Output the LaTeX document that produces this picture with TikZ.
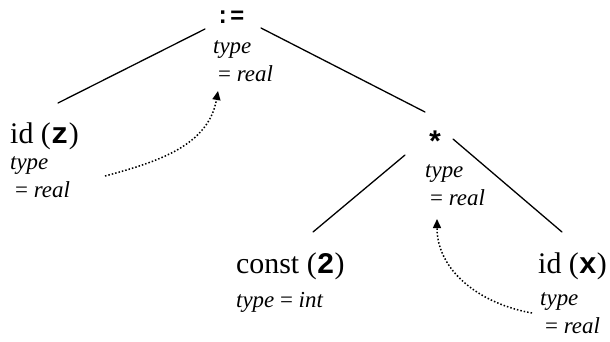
\documentclass[tikz,border=0pt]{standalone}
\usepackage{fontspec}
\setmainfont{Liberation Serif}
\setmonofont{Liberation Mono}
\usetikzlibrary{arrows.meta}
\tikzset{
  op/.style={font=\fontsize{24}{24}\selectfont\ttfamily\bfseries, inner sep=0pt, anchor=base},
  leaf/.style={font=\fontsize{30}{30}\selectfont, inner sep=0pt, anchor=base west},
  attr/.style={font=\fontsize{23}{28}\selectfont\itshape, inner sep=0pt, anchor=base west, align=left},
  edge/.style={draw=black, line width=1.3bp, line cap=round},
  dep/.style={draw=black, dotted, line width=1.5bp, -{Triangle[length=9bp,width=8bp]}},
}
\newcommand{\tyval}[1]{type\\\hspace*{5bp}\textup{=} #1}

\begin{document}
\begin{tikzpicture}[x=1bp,y=1bp]
  \useasboundingbox (0,0) rectangle (610,-341);
  % tree nodes
  \node[op] (asgn) at (230,-23) {:=};
  \node[op, font=\fontsize{30}{30}\selectfont\ttfamily\bfseries] (star) at (435,-152) {*};
  \node[leaf] (idz) at (10,-143) {id (\texttt{\textbf{z}})};
  \node[leaf] (const) at (236,-273) {const (\texttt{\textbf{2}})};
  \node[leaf] (idx) at (538,-273) {id (\texttt{\textbf{x}})};
  % attributes (anchored on their last line)
  \node[attr] (asgnattr) at (213,-81) {\tyval{real}};
  \node[attr] (zattr) at (10,-197) {\tyval{real}};
  \node[attr] (starattr) at (425,-205) {\tyval{real}};
  \node[attr] (constattr) at (236,-307) {type \textup{=} int};
  \node[attr] (xattr) at (540,-333) {\tyval{real}};
  % syntax tree edges
  \draw[edge] ([shift={(-25,-6)}]asgn.base) -- ([shift={(48,40)}]idz.base west);
  \draw[edge] ([shift={(31,-5)}]asgn.base) -- ([shift={(-10,40)}]star.base);
  \draw[edge] ([shift={(-30,-3)}]star.base) -- ([shift={(77,41)}]const.base west);
  \draw[edge] ([shift={(18,13)}]star.base) -- ([shift={(24,41)}]idx.base west);
  % dependencies
  \draw[dep] ([shift={(95,21)}]zattr.base west) to[out=15,in=-100] ([shift={(5,-10)}]asgnattr.base west);
  \draw[dep] ([shift={(-8,20)}]xattr.base west) to[out=170,in=-90] ([shift={(12,-14)}]starattr.base west);
\end{tikzpicture}
\end{document}
